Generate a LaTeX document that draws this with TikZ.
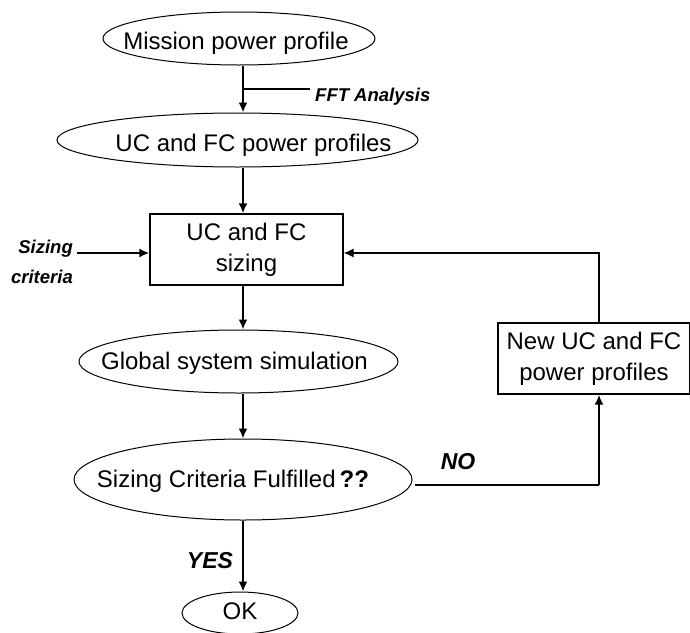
\documentclass[tikz,border=0pt]{standalone}
\usepackage{fontspec}
\setmainfont{Liberation Sans}
\usetikzlibrary{shapes.geometric,arrows.meta,positioning}

\tikzset{
  oval/.style={draw, ellipse, inner sep=0pt, line width=1pt},
  box/.style={draw, rectangle, line width=1.2pt, align=center, inner sep=0pt,
    font=\fontsize{24}{31}\selectfont},
  big/.style={font=\fontsize{24}{28}\selectfont, inner sep=0pt},
  note/.style={font=\fontsize{18.5}{30}\selectfont\bfseries\itshape, inner sep=0pt},
  answer/.style={font=\fontsize{23}{27}\selectfont\bfseries\itshape, inner sep=0pt},
  arr/.style={-{Latex[length=10pt,width=9pt]}, line width=2.1pt},
  back/.style={line width=1.3pt},
}

\begin{document}
\begin{tikzpicture}[x=1pt,y=-1pt]
\useasboundingbox (0,0) rectangle (690,632);

% main column
\coordinate (axis) at (243,0);
\node[oval, minimum width=272pt, minimum height=53pt,
  label={[big,xshift=-3pt,yshift=-5pt]center:Mission power profile}] (mission) at (239,38.5) {};
\node[oval, minimum width=361pt, minimum height=54pt,
  label={[big,xshift=16pt,yshift=-5pt]center:UC and FC power profiles}] (profiles) at (237.5,140) {};
\node[box, minimum width=193pt, minimum height=71pt] (sizing) at (246.5,249.5) {UC and FC\\sizing};
\node[oval, minimum width=319pt, minimum height=63pt,
  label={[big,xshift=-4pt,yshift=-2pt]center:Global system simulation}] (global) at (238.5,361.5) {};
\node[oval, minimum width=338pt, minimum height=81pt,
  label={[big,xshift=-10pt,yshift=-2pt]center:Sizing Criteria Fulfilled\,\textbf{??}}] (criteria) at (243,479.5) {};
\node[oval, minimum width=116pt, minimum height=42pt,
  label={[big,yshift=2pt]center:OK}] (ok) at (240,613) {};

% side boxes and notes
\node[box, minimum width=192pt, minimum height=71pt] (newprof) at (594,358.5) {New UC and FC\\power profiles};
\node[note, anchor=west] (fft) at (315,97) {FFT Analysis};
\node[note, anchor=east, align=right] (crit) at (73,262) {Sizing\\criteria};
\node[answer] (no) at (458,462) {NO};
\node[answer] (yes) at (210,561) {YES};

\coordinate (fftjoin) at (243,89);
\coordinate (critend) at (77,253);
\coordinate (nojoin) at (415,485);
\coordinate (loopx) at (599,0);

\draw[arr] (mission.south -| axis) -- (profiles.north -| axis);
\draw[back] (fftjoin) -- ([xshift=-5pt]fftjoin -| fft.west);
\draw[arr] (profiles.south -| axis) -- (sizing.north -| axis);
\draw[arr] (critend) -- (critend -| sizing.west);
\draw[arr] (sizing.south -| axis) -- (global.north -| axis);
\draw[arr] (global.south -| axis) -- (criteria.north -| axis);
\draw[arr] (criteria.south -| axis) -- (ok.north -| axis);

% loop back
\draw[back] (nojoin) -- (nojoin -| loopx);
\draw[arr] (nojoin -| loopx) -- (loopx |- newprof.south);
\draw[back, -{Latex[length=10pt,width=9pt]}] (loopx |- newprof.north) -- (loopx |- critend) -- (critend -| sizing.east);
\end{tikzpicture}
\end{document}
